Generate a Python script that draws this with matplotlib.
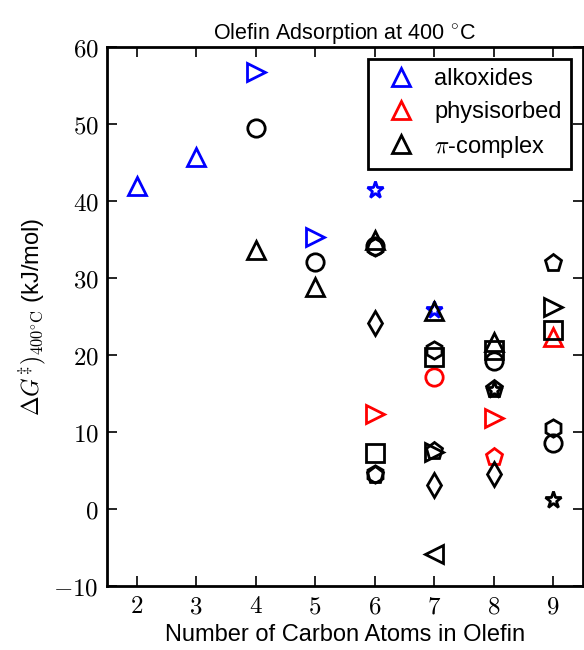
import matplotlib
matplotlib.use('Agg')
import matplotlib.pyplot as plt
from matplotlib.lines import Line2D

plt.rcParams['font.family'] = ['Liberation Sans', 'DejaVu Sans']
plt.rcParams['mathtext.fontset'] = 'cm'

# alkoxides (blue)
alk_x = [2, 3, 4, 5, 6, 7]
alk_y = [42.0, 45.7, 56.8, 35.3, 41.5, 25.9]
alk_m = ['^', '^', '>', '>', '*', '*']

# physisorbed (red)
phys_x = [6, 7, 8, 8, 9]
phys_y = [12.4, 17.2, 11.8, 6.8, 22.3]
phys_m = ['>', 'o', '>', 'p', '^']

# pi-complex (black)
pi_x = [4, 4, 5, 5,
        6, 6, 6, 6, 6, 6, 6,
        7, 7, 7, 7, 7, 7, 7,
        8, 8, 8, 8, 8, 8,
        9, 9, 9, 9, 9, 9]
pi_y = [49.5, 33.7, 32.1, 28.8,
        34.9, 34.2, 34.0, 24.2, 7.3, 4.5, 4.4,
        25.7, 20.6, 19.7, 7.4, 7.5, 3.1, -5.9,
        21.7, 20.6, 19.2, 15.6, 15.5, 4.6,
        31.9, 26.2, 23.3, 10.5, 8.6, 1.2]
pi_m = ['o', '^', 'o', '^',
        '^', 'o', 'h', 'd', 's', 'h', 'p',
        '^', 'h', 's', '>', 'p', 'd', '<',
        '^', 's', 'o', 'p', '*', 'd',
        'p', '>', 's', 'h', 'o', '*']

series = [(alk_x, alk_y, alk_m, 'blue', 'alkoxides'),
          (phys_x, phys_y, phys_m, 'red', 'physisorbed'),
          (pi_x, pi_y, pi_m, 'black', r'$\pi$-complex')]

fig = plt.figure(figsize=(5.84, 6.5), dpi=100)
ax = fig.add_axes([0.183, 0.0985, 0.815, 0.829])

handles = []
for xs, ys, ms, col, lab in series:
    for x, y, m in zip(xs, ys, ms):
        ax.plot(x, y, marker=m, ls='none', ms=12.5, mfc='none', mec=col, mew=2)
    handles.append(Line2D([], [], marker='^', ls='none', ms=12.5, mfc='none',
                          mec=col, mew=2, label=lab))

ax.set_xlim(1.5, 9.5)
ax.set_ylim(-10, 60)
xt = list(range(2, 10))
yt = list(range(-10, 61, 10))
ax.set_xticks(xt)
ax.set_xticklabels(['$%d$' % v for v in xt], fontsize=18)
ax.set_yticks(yt)
ax.set_yticklabels(['$%d$' % v for v in yt], fontsize=18)
ax.tick_params(direction='in', top=True, right=True, length=7, width=1.2, pad=6)
for s in ax.spines.values():
    s.set_linewidth(2)

ax.set_title(r'Olefin Adsorption at 400 $^{\circ}$C', fontsize=15.5)
ax.set_xlabel('Number of Carbon Atoms in Olefin', fontsize=17)
ax.set_ylabel(r'$\Delta G^{\ddagger})_{400^{\circ}\mathrm{C}}$ (kJ/mol)', fontsize=17)

leg = ax.legend(handles=handles, loc='upper right', numpoints=1, fontsize=17,
                fancybox=False, framealpha=1, edgecolor='black',
                handletextpad=0.4, borderpad=0.4, labelspacing=0.45,
                borderaxespad=0.5)
leg.get_frame().set_linewidth(2)

fig.savefig('out.png', dpi=100)
